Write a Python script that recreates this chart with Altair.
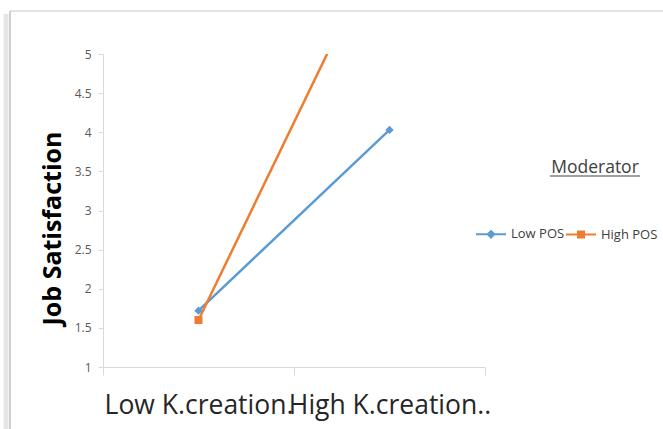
import altair as alt
import pandas as pd

# Interaction plot: job satisfaction by knowledge creation, moderated by POS
conditions = ["Low K.creation.", "High K.creation.."]
series = ["Low POS", "High POS"]
low_pos = [1.72, 4.03]
high_pos = [1.60, 6.65]
colors = ["#5B9BD5", "#ED7D31"]
y_ticks = [1, 1.5, 2, 2.5, 3, 3.5, 4, 4.5, 5]

rows = []
for name, vals in zip(series, [low_pos, high_pos]):
    for cond, val in zip(conditions, vals):
        rows.append({"condition": cond, "series": name, "score": val})
df = pd.DataFrame(rows)

FONT = "Open Sans"
AXIS_GREY = "#d9d9d9"

x_enc = alt.X(
    "condition:N",
    sort=conditions,
    scale=alt.Scale(type="band", domain=conditions, paddingInner=0, paddingOuter=0),
    axis=alt.Axis(
        title=None, tickBand="extent", labelAngle=0, labelFont=FONT,
        labelFontSize=26.5, labelColor="#262626", labelBaseline="alphabetic",
        labelPadding=38, labelOverlap=False, labelLimit=500, tickSize=8,
        tickColor=AXIS_GREY, domainColor=AXIS_GREY, grid=False,
    ),
)
y_enc = alt.Y(
    "score:Q",
    scale=alt.Scale(domain=[1, 5], nice=False, zero=False),
    axis=alt.Axis(
        values=y_ticks, format="~g", title="Job Satisfaction", titleFont=FONT,
        titleFontSize=25, titleFontWeight="bold", titleColor="#000000",
        titleAngle=-90, titleAlign="center", titleBaseline="alphabetic",
        titleX=-43, titleY=174, labelFont=FONT, labelFontSize=12,
        labelColor="#595959", labelPadding=7, tickSize=5,
        tickColor=AXIS_GREY, domainColor=AXIS_GREY, grid=False,
    ),
)

legend_def = alt.Legend(
    title=None, orient="none", legendX=372, legendY=164, direction="horizontal",
    labelFont=FONT, labelFontSize=13, labelColor="#404040", labelOffset=4,
    symbolSize=900, symbolStrokeWidth=2, symbolOpacity=1, columnPadding=-21,
    padding=0,
)
color_enc = alt.Color("series:N", scale=alt.Scale(domain=series, range=colors), legend=legend_def)

base = alt.Chart(df)

lines = base.mark_line(strokeWidth=2.5, clip=True).encode(x=x_enc, y=y_enc, color=color_enc)

low_pts = (
    base.transform_filter(alt.datum.series == "Low POS")
    .mark_point(shape="diamond", filled=True, size=70, opacity=1, clip=True)
    .encode(x=x_enc, y=y_enc, color=color_enc)
)
high_pts = (
    base.transform_filter(alt.datum.series == "High POS")
    .mark_point(shape="square", filled=True, size=64, opacity=1, clip=True)
    .encode(x=x_enc, y=y_enc, color=color_enc)
)

# Legend keys: a short line with the series marker in the middle
key_paths = [
    "M-1,0L1,0M0,-0.22L0.22,0L0,0.22L-0.22,0Z",
    "M-1,0L1,0M-0.2,-0.2L0.2,-0.2L0.2,0.2L-0.2,0.2Z",
]
legend_keys = base.mark_point(filled=True, clip=True, strokeWidth=2, opacity=1).encode(
    x=alt.value(0),
    y=alt.value(-500),
    color=color_enc,
    shape=alt.Shape("series:N", scale=alt.Scale(domain=series, range=key_paths), legend=legend_def),
)

note = pd.DataFrame({"label": ["Moderator"]})
moderator = alt.Chart(note).mark_text(
    font=FONT, fontSize=17.5, color="#404040", align="center", baseline="alphabetic"
).encode(text="label:N", x=alt.value(492), y=alt.value(119))
underline = alt.Chart(note).mark_rule(color="#404040", strokeWidth=1).encode(
    x=alt.value(447), x2=alt.value(537), y=alt.value(122)
)

# Chart-area frame with a soft shadow on the left
frame_left = alt.Chart(note).mark_rule(color="#bfbfbf", strokeWidth=1.5).encode(
    x=alt.value(-93), y=alt.value(-43), y2=alt.value(400)
)
frame_top = alt.Chart(note).mark_rule(color="#c8c8c8", strokeWidth=1.2).encode(
    x=alt.value(-93), x2=alt.value(600), y=alt.value(-43)
)
shadow = alt.Chart(note).mark_rule(color="#e6e6e6", strokeWidth=5).encode(
    x=alt.value(-97), y=alt.value(-40), y2=alt.value(400)
)

chart = (
    alt.layer(shadow, frame_left, frame_top, lines, low_pts, high_pts, legend_keys, moderator, underline)
    .properties(
        width=382,
        height=313,
        padding={"left": 103, "top": 54, "right": 178, "bottom": 62},
        autosize=alt.AutoSizeParams(type="none"),
        background="white",
    )
    .configure_view(stroke=None)
)

chart.save("out.html", embed_options={"renderer": "svg", "actions": False})
